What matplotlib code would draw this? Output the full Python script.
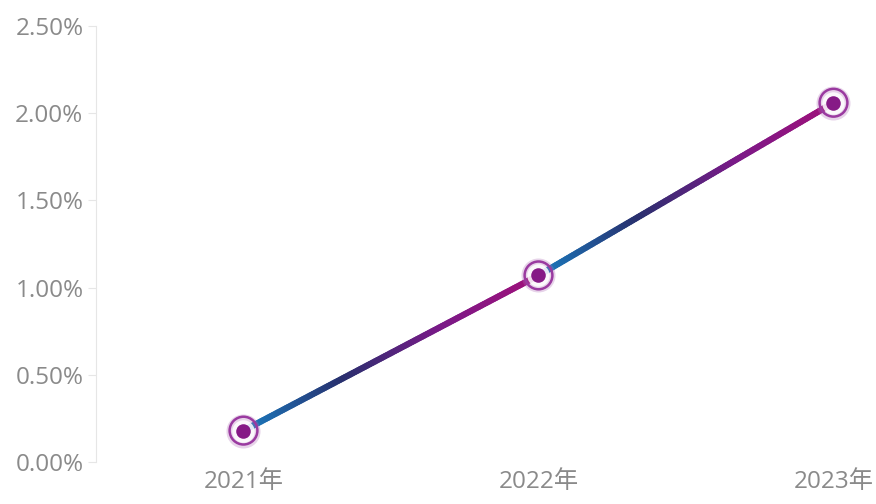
import numpy as np
import matplotlib.pyplot as plt
from matplotlib.collections import LineCollection
from matplotlib.colors import LinearSegmentedColormap
from matplotlib.ticker import FuncFormatter

years = ['2021年', '2022年', '2023年']
rates = [0.18, 1.07, 2.06]  # %
yticks = [0.0, 0.5, 1.0, 1.5, 2.0, 2.5]

plt.rcParams['font.family'] = ['Open Sans', 'Noto Sans CJK SC', 'DejaVu Sans']

fig = plt.figure(figsize=(8.76, 5.04), dpi=100)
# the plot runs past the right edge of the picture, as in the reference
ax = fig.add_axes([96 / 876, 42 / 504, 885 / 876, 436 / 504])

x = np.arange(len(years))
ax.set_xlim(-0.5, 2.5)
ax.set_ylim(0, 2.5)

# gradient on each segment: blue -> navy -> purple
cmap = LinearSegmentedColormap.from_list('seg', ['#1a7cc0', '#28306e', '#7a1a88', '#a0107a'])
for i in range(len(x) - 1):
    t = np.linspace(0, 1, 120)
    xs = x[i] + (x[i + 1] - x[i]) * t
    ys = rates[i] + (rates[i + 1] - rates[i]) * t
    pts = np.column_stack([xs, ys]).reshape(-1, 1, 2)
    segs = np.concatenate([pts[:-1], pts[1:]], axis=1)
    lc = LineCollection(segs, colors=cmap(t[:-1]), linewidths=4.5, capstyle='round', zorder=3)
    ax.add_collection(lc)

# halo markers
ax.scatter(x, rates, s=600, color='#b070b8', alpha=0.3, zorder=4, linewidths=0)
ax.scatter(x, rates, s=400, facecolor='none', edgecolor='#9a3aa0', linewidths=1.8, zorder=5)
ax.scatter(x, rates, s=260, color='white', zorder=5, linewidths=0, alpha=0.85)
ax.scatter(x, rates, s=110, color='#861a86', zorder=6, linewidths=0)

ax.set_xticks(x)
ax.set_xticklabels(years)
ax.set_yticks(yticks)
ax.yaxis.set_major_formatter(FuncFormatter(lambda v, p: f'{v:.2f}%'))

for s in ['top', 'right', 'bottom']:
    ax.spines[s].set_visible(False)
ax.spines['left'].set_color('#e6e6e6')
ax.tick_params(axis='y', colors='#e6e6e6', labelcolor='#8a8a8a', labelsize=17.5, length=6, pad=3)
ax.tick_params(axis='x', length=0, labelcolor='#8a8a8a', labelsize=17.5, pad=6)

fig.savefig('out.png', dpi=100)
